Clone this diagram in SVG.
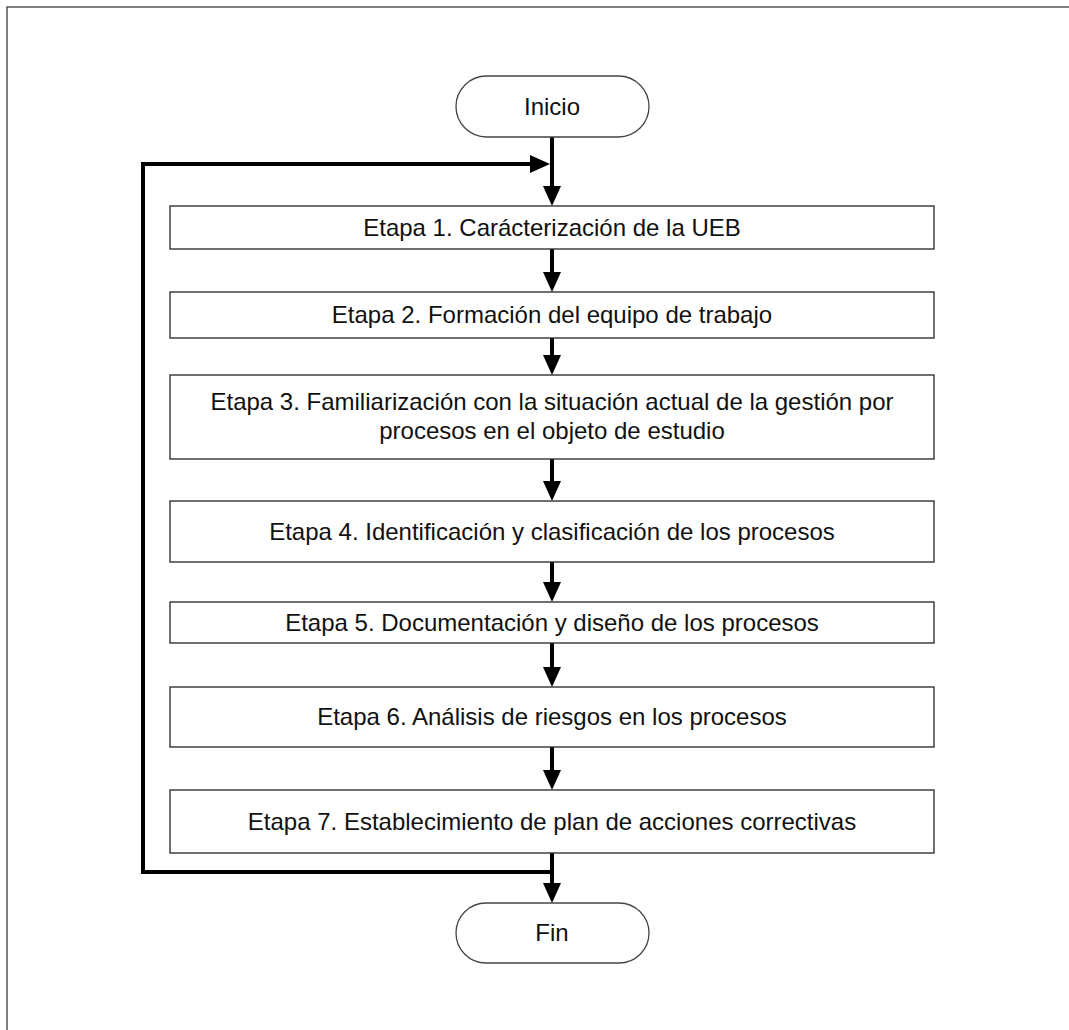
<svg xmlns="http://www.w3.org/2000/svg" width="1069" height="1030" viewBox="0 0 1069 1030">
<style>
.box{fill:#fff;stroke:#333;stroke-width:1.4}
.term{fill:#fff;stroke:#444;stroke-width:1.3}
.t{font-family:"Liberation Sans",Arial,sans-serif;font-size:24px;fill:#111;text-anchor:middle}
.c{fill:none;stroke:#000;stroke-width:4}
</style>
<defs>
<marker id="ah" markerUnits="userSpaceOnUse" markerWidth="20" markerHeight="18" refX="10" refY="9" orient="auto">
<path d="M0,0 L20,9 L0,18 z" fill="#000"/>
</marker>
</defs>
<rect width="1069" height="1030" fill="#fff"/>
<rect x="7" y="7" width="1200" height="1200" fill="none" stroke="#555" stroke-width="1.5"/>
<g id="connectors">
<path class="c" d="M552,137 V196" marker-end="url(#ah)"/>
<path class="c" d="M552,249 V282" marker-end="url(#ah)"/>
<path class="c" d="M552,338 V365" marker-end="url(#ah)"/>
<path class="c" d="M552,459 V491" marker-end="url(#ah)"/>
<path class="c" d="M552,562 V592" marker-end="url(#ah)"/>
<path class="c" d="M552,643 V677" marker-end="url(#ah)"/>
<path class="c" d="M552,747 V780" marker-end="url(#ah)"/>
<path class="c" d="M552,853 V893" marker-end="url(#ah)"/>
<path class="c" d="M552,872 H143 V164 H540" marker-end="url(#ah)"/>
</g>
<g id="inicio"><rect class="term" x="456" y="76" width="193" height="61" rx="30.5"/><text class="t" x="552" y="115">Inicio</text></g>
<g id="etapa1"><rect class="box" x="170" y="206" width="764" height="43"/><text class="t" x="552" y="236">Etapa 1. Carácterización de la UEB</text></g>
<g id="etapa2"><rect class="box" x="170" y="292" width="764" height="46"/><text class="t" x="552" y="323">Etapa 2. Formación del equipo de trabajo</text></g>
<g id="etapa3"><rect class="box" x="170" y="375" width="764" height="84"/><text class="t" x="552" y="410">Etapa 3. Familiarización con la situación actual de la gestión por</text><text class="t" x="552" y="439">procesos en el objeto de estudio</text></g>
<g id="etapa4"><rect class="box" x="170" y="501" width="764" height="61"/><text class="t" x="552" y="540">Etapa 4. Identificación y clasificación de los procesos</text></g>
<g id="etapa5"><rect class="box" x="170" y="602" width="764" height="41"/><text class="t" x="552" y="631">Etapa 5. Documentación y diseño de los procesos</text></g>
<g id="etapa6"><rect class="box" x="170" y="687" width="764" height="60"/><text class="t" x="552" y="725">Etapa 6. Análisis de riesgos en los procesos</text></g>
<g id="etapa7"><rect class="box" x="170" y="790" width="764" height="63"/><text class="t" x="552" y="830">Etapa 7. Establecimiento de plan de acciones correctivas</text></g>
<g id="fin"><rect class="term" x="456" y="903" width="193" height="60" rx="30"/><text class="t" x="552" y="941">Fin</text></g>
</svg>
